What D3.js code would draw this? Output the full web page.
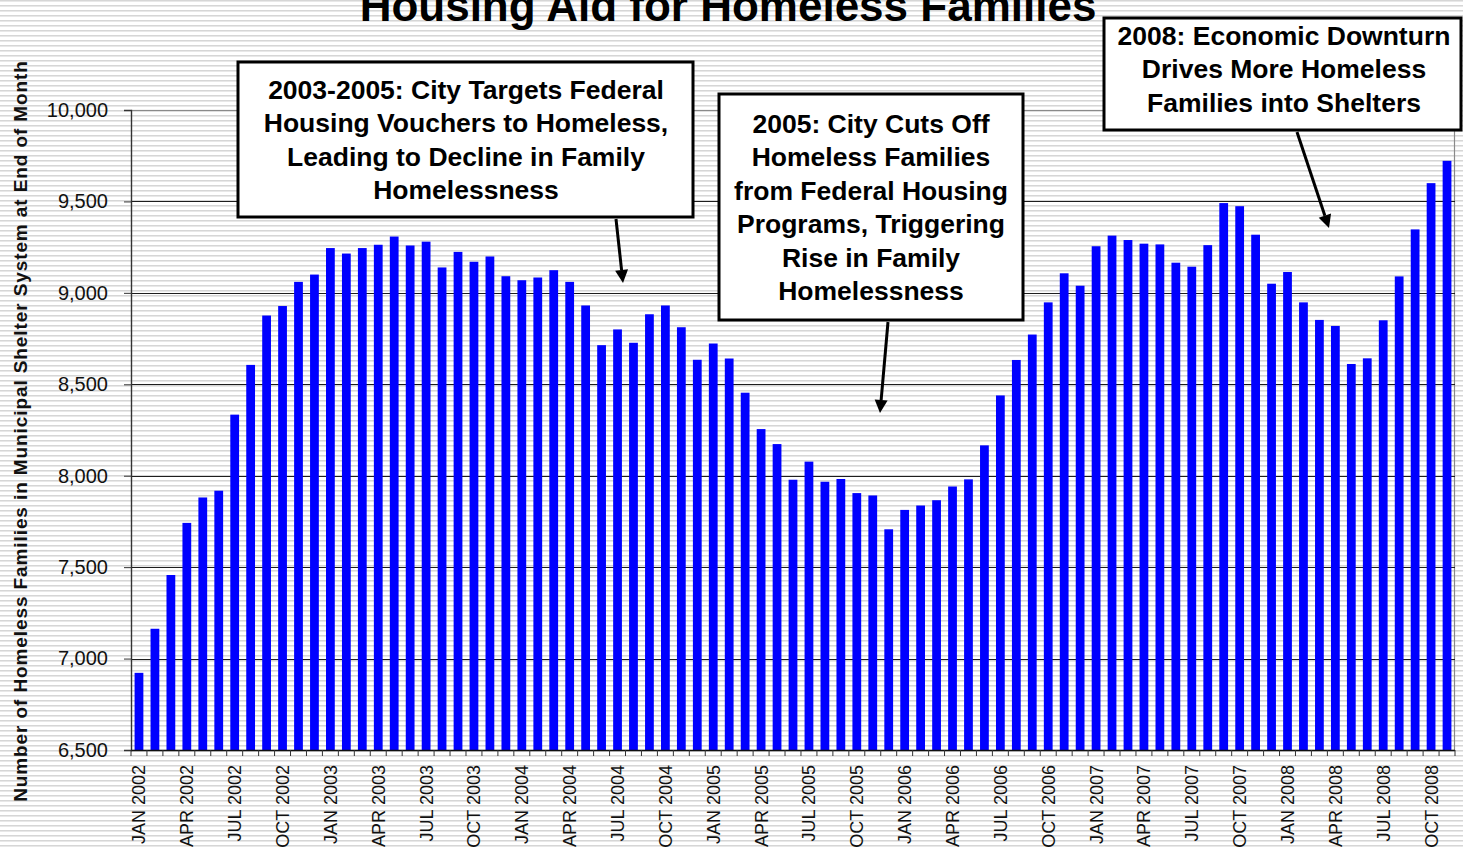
<!DOCTYPE html>
<html>
<head>
<meta charset="utf-8">
<script src="https://cdn.jsdelivr.net/npm/d3@7"></script>
<style>
  body { margin: 0; background: #fff; }
  svg { display: block; font-family: "Liberation Sans", Arial, Helvetica, sans-serif; }
</style>
</head>
<body>
<svg id="chart" width="1463" height="848"></svg>
<script>
// Homeless families in the municipal shelter system, end of each month, Jan 2002 - Nov 2008
const families = [
  6922, 7163, 7457, 7742, 7881, 7918, 8334, 8606, 8876, 8928, 9060, 9100,
  9245, 9215, 9245, 9263, 9308, 9259, 9280, 9139, 9224, 9170, 9199, 9091,
  9069, 9084, 9124, 9060, 8931, 8714, 8800, 8727, 8883, 8931, 8812, 8634,
  8723, 8641, 8454, 8255, 8173, 7978, 8077, 7967, 7982, 7905, 7892, 7707,
  7813, 7837, 7866, 7941, 7980, 8166, 8439, 8633, 8772, 8948, 9107, 9039,
  9255, 9313, 9289, 9269, 9265, 9165, 9143, 9261, 9491, 9474, 9318, 9050,
  9114, 8948, 8852, 8819, 8611, 8642, 8850, 9090, 9347, 9600, 9722
];
const monthNames = ["JAN", "FEB", "MAR", "APR", "MAY", "JUN", "JUL", "AUG", "SEP", "OCT", "NOV", "DEC"];
const years = [2002, 2003, 2004, 2005, 2006, 2007, 2008];
const labelledMonths = ["JAN", "APR", "JUL", "OCT"];
const yTicks = [6500, 7000, 7500, 8000, 8500, 9000, 9500, 10000];

const title = "Housing Aid for Homeless Families";
const yTitle = "Number of Homeless Families in Municipal Shelter System at End of Month";
const annotations = [
  ["2003-2005: City Targets Federal", "Housing Vouchers to Homeless,", "Leading to Decline in Family", "Homelessness"],
  ["2005: City Cuts Off", "Homeless Families", "from Federal Housing", "Programs, Triggering", "Rise in Family", "Homelessness"],
  ["2008: Economic Downturn", "Drives More Homeless", "Families into Shelters"]
];

const months = years.flatMap(y => monthNames.map(m => `${m} ${y}`)).slice(0, families.length);
const rows = months.map((m, i) => ({ month: m, value: families[i] }));

const W = 1463, H = 848;
const plot = { left: 131, right: 1455, top: 110, bottom: 750 };
const svg = d3.select("#chart");

// striped page background
const defs = svg.append("defs");
const pat = defs.append("pattern").attr("id", "stripes")
  .attr("patternUnits", "userSpaceOnUse").attr("width", 10).attr("height", 5);
pat.append("rect").attr("width", 10).attr("height", 5).attr("fill", "#ffffff");
pat.append("rect").attr("y", 0).attr("width", 10).attr("height", 1).attr("fill", "#d6d6d6");
pat.append("rect").attr("y", 1).attr("width", 10).attr("height", 1).attr("fill", "#e8e8e8");
svg.append("rect").attr("width", W).attr("height", H).attr("fill", "url(#stripes)");

const x = d3.scaleBand().domain(months).range([plot.left, plot.right])
  .paddingInner(0.45).paddingOuter(0.225);
const y = d3.scaleLinear().domain([6500, 10000]).range([plot.bottom, plot.top]);

// plot frame
svg.append("rect")
  .attr("x", plot.left + 0.5).attr("y", plot.top + 0.5)
  .attr("width", plot.right - plot.left - 1).attr("height", plot.bottom - plot.top)
  .attr("fill", "none").attr("stroke", "#8a8a8a").attr("stroke-width", 1.2);

// horizontal gridlines
svg.append("g").selectAll("line")
  .data(yTicks.filter(t => t > 6500 && t < 10000))
  .join("line")
  .attr("x1", plot.left).attr("x2", plot.right)
  .attr("y1", d => Math.round(y(d)) + 0.5).attr("y2", d => Math.round(y(d)) + 0.5)
  .attr("stroke", "#1e1e1e").attr("stroke-width", 1);

// bars
svg.append("g").selectAll("rect")
  .data(rows)
  .join("rect")
  .attr("x", d => x(d.month))
  .attr("width", x.bandwidth())
  .attr("y", d => y(d.value))
  .attr("height", d => y(6500) - y(d.value))
  .attr("fill", "#0000ff");

// y axis
const yAxis = svg.append("g")
  .attr("transform", `translate(${plot.left},0)`)
  .call(d3.axisLeft(y).tickValues(yTicks).tickSize(7).tickPadding(16).tickFormat(d3.format(",")));
yAxis.select(".domain").attr("stroke", "#333").attr("stroke-width", 1.3);
yAxis.selectAll(".tick line").attr("stroke", "#333");
yAxis.selectAll(".tick text").attr("font-size", 20).attr("fill", "#111")
  .attr("font-family", "'Liberation Sans', Arial, sans-serif");

// x axis: ticks on month boundaries, labels every quarter
const step = x.step();
const slotStart = m => x(m) - (step - x.bandwidth()) / 2;
const boundaries = months.map(slotStart).concat([slotStart(months[months.length - 1]) + step]);
const xg = svg.append("g");
xg.append("line")
  .attr("x1", plot.left).attr("x2", plot.right)
  .attr("y1", plot.bottom + 0.5).attr("y2", plot.bottom + 0.5)
  .attr("stroke", "#111").attr("stroke-width", 1.3);
xg.selectAll("line.tk").data(boundaries).join("line").attr("class", "tk")
  .attr("x1", d => d).attr("x2", d => d)
  .attr("y1", plot.bottom).attr("y2", plot.bottom + 6)
  .attr("stroke", "#333");
xg.selectAll("text")
  .data(months.filter(m => labelledMonths.includes(m.slice(0, 3))))
  .join("text")
  .attr("transform", m => `translate(${x(m) + x.bandwidth() / 2},${plot.bottom + 15}) rotate(-90)`)
  .attr("text-anchor", "end")
  .attr("dy", "0.36em")
  .attr("font-size", 18)
  .attr("fill", "#111")
  .text(m => m);

// titles
svg.append("text")
  .attr("x", 728).attr("y", 21)
  .attr("text-anchor", "middle")
  .attr("font-size", 44).attr("font-weight", "bold")
  .attr("fill", "#000")
  .text(title);

svg.append("text")
  .attr("transform", "translate(27,431) rotate(-90)")
  .attr("text-anchor", "middle")
  .attr("font-size", 19).attr("font-weight", "bold")
  .attr("letter-spacing", "0.9px")
  .attr("fill", "#111")
  .text(yTitle);

// callout boxes with arrows
const noteLayout = [
  { box: [238, 62, 693, 217], cx: 466, first: 99, from: [616, 219], to: [623, 283] },
  { box: [719, 94, 1023, 320], cx: 871, first: 133, from: [888, 322], to: [880, 413] },
  { box: [1104, 18, 1461, 130], cx: 1284, first: 45, from: [1297, 132], to: [1329, 228] }
];
const lineGap = 33.4;

const notes = svg.append("g");
annotations.forEach((lines, i) => {
  const L = noteLayout[i];
  const [x0, y0, x1, y1] = L.box;
  const g = notes.append("g");
  g.append("rect")
    .attr("x", x0).attr("y", y0).attr("width", x1 - x0).attr("height", y1 - y0)
    .attr("fill", "#fff").attr("stroke", "#000").attr("stroke-width", 3);
  g.selectAll("text").data(lines).join("text")
    .attr("x", L.cx).attr("y", (d, j) => L.first + j * lineGap)
    .attr("text-anchor", "middle")
    .attr("font-size", 26.5).attr("font-weight", "bold").attr("fill", "#000")
    .text(d => d);

  // arrow shaft and head
  const [fx, fy] = L.from, [tx, ty] = L.to;
  const ang = Math.atan2(ty - fy, tx - fx);
  const headLen = 13, headHalf = 6.5;
  const bx = tx - headLen * Math.cos(ang), by = ty - headLen * Math.sin(ang);
  g.append("line")
    .attr("x1", fx).attr("y1", fy).attr("x2", bx).attr("y2", by)
    .attr("stroke", "#000").attr("stroke-width", 3);
  const px = -Math.sin(ang) * headHalf, py = Math.cos(ang) * headHalf;
  g.append("path")
    .attr("d", `M${tx},${ty}L${bx + px},${by + py}L${bx - px},${by - py}Z`)
    .attr("fill", "#000");
});
</script>
</body>
</html>
